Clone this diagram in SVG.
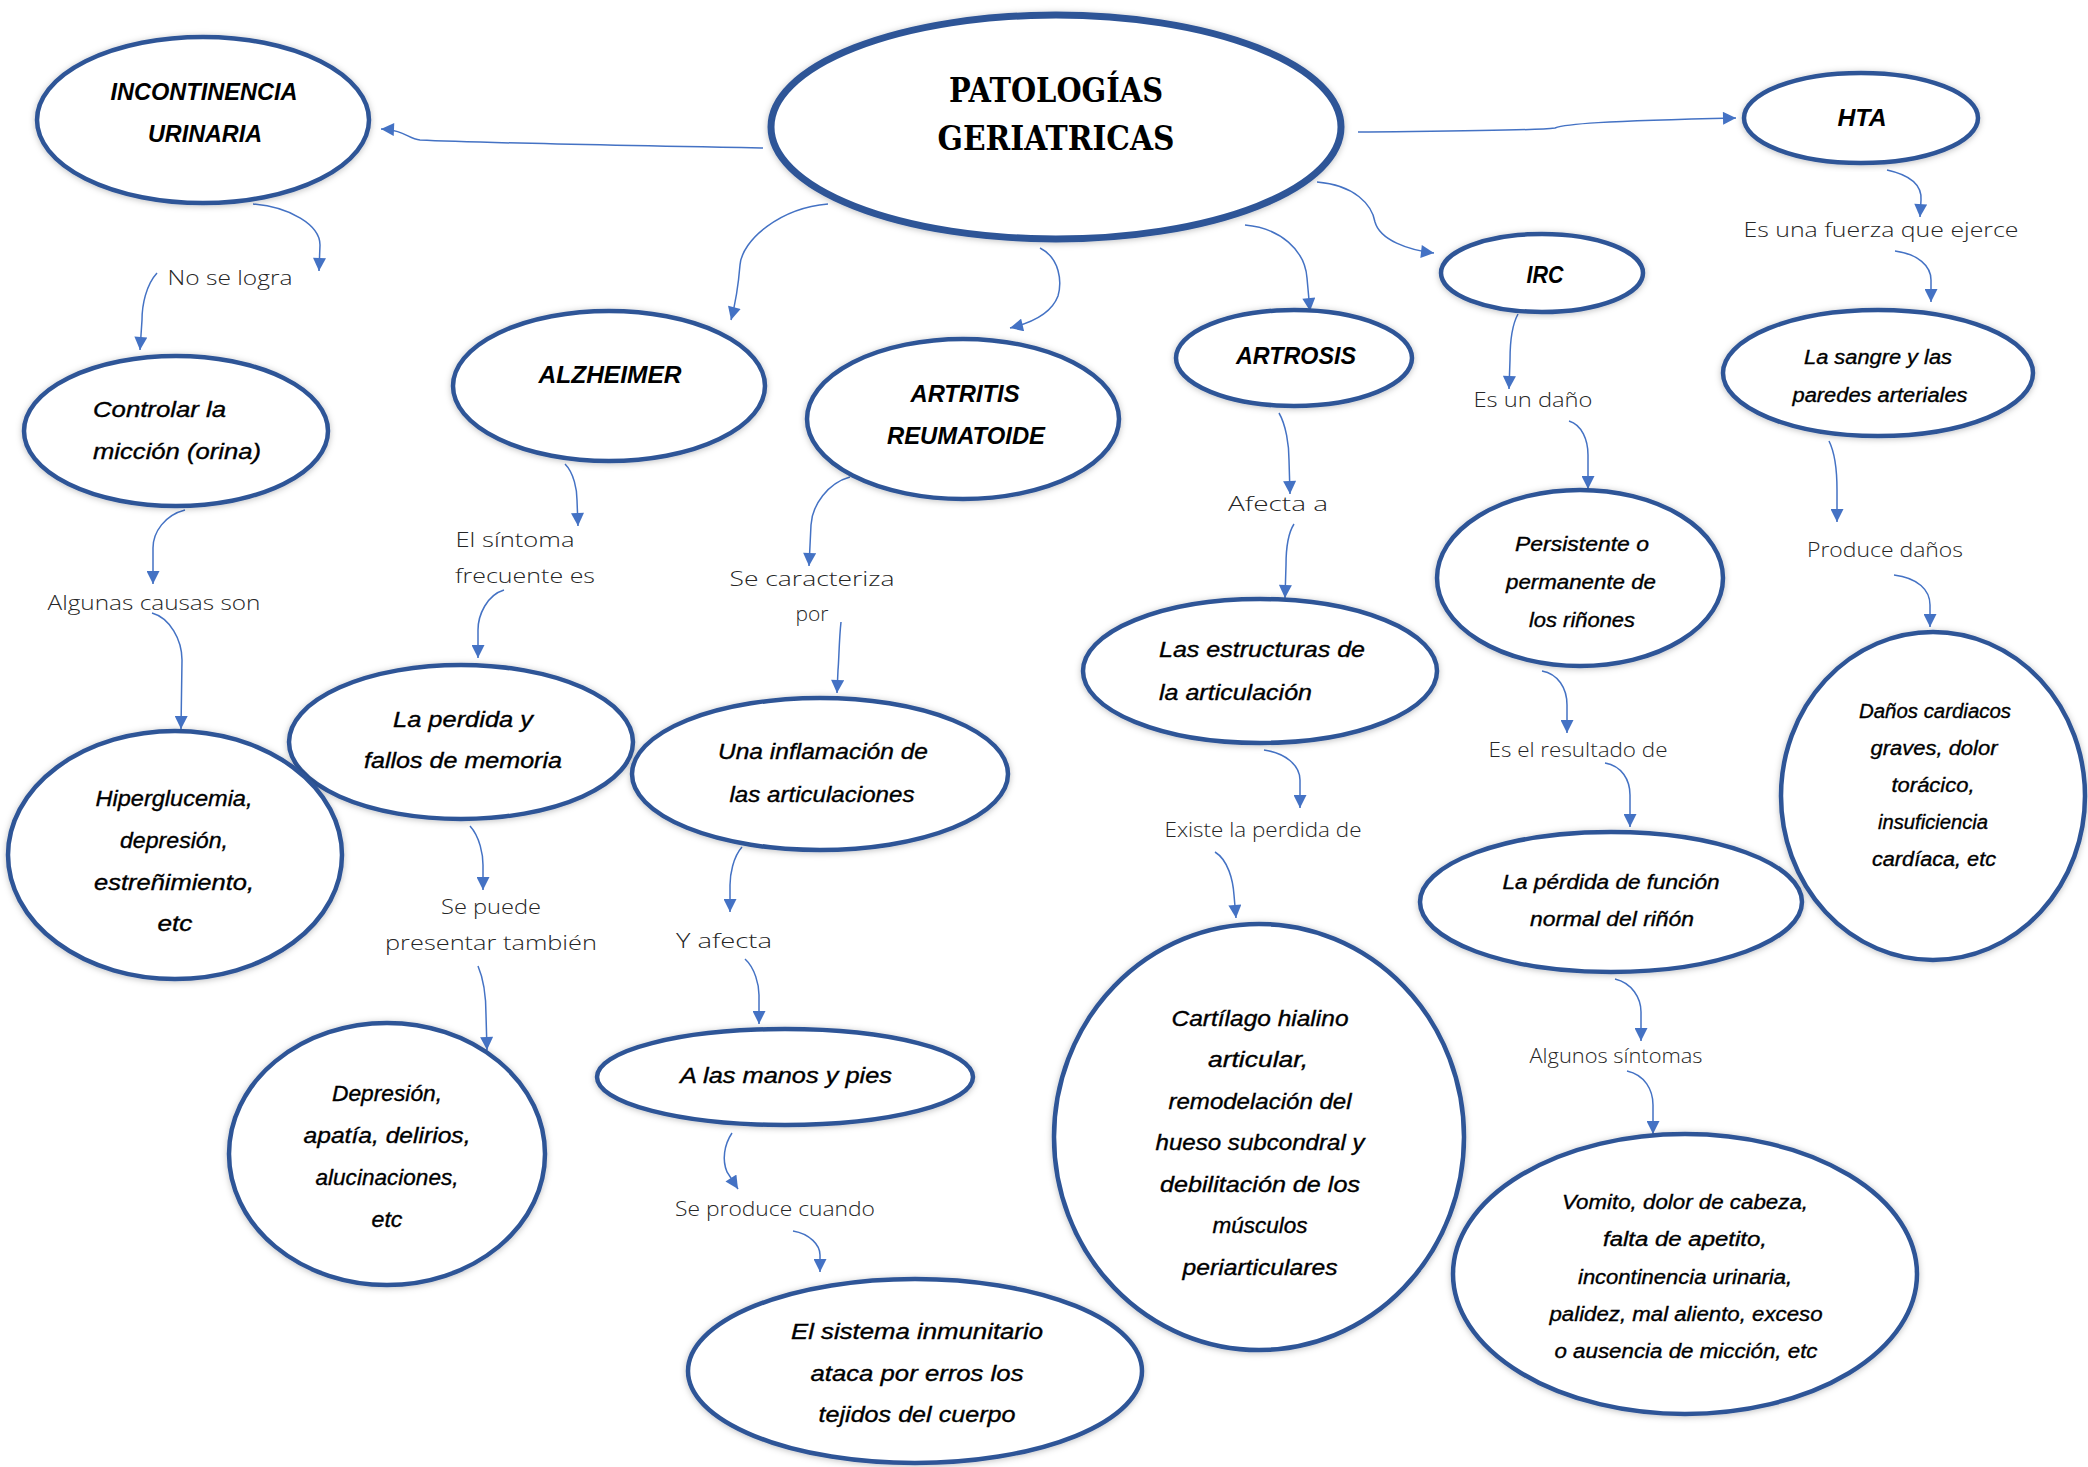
<svg xmlns="http://www.w3.org/2000/svg" width="2088" height="1467" viewBox="0 0 2088 1467">
<defs>
<marker id="ah" viewBox="0 0 10 10" refX="10" refY="5" markerWidth="14" markerHeight="13" markerUnits="userSpaceOnUse" orient="auto"><path d="M0,0 L10,5 L0,10 z" fill="#4472C4"/></marker>
<filter id="sh" x="-10%" y="-10%" width="120%" height="120%"><feDropShadow dx="0" dy="1" stdDeviation="3" flood-color="#000" flood-opacity="0.25"/></filter>
</defs>
<style>
.node ellipse{fill:#fff;stroke:#2F5597;stroke-width:4.5;filter:url(#sh)}
.t{font-family:"Liberation Sans",Arial,sans-serif;font-style:italic;font-size:22px;fill:#000;stroke:#000;stroke-width:0.35;text-anchor:middle}
.s{font-size:20px}
.t.l{text-anchor:start}
.h{font-family:"Liberation Sans",Arial,sans-serif;font-style:italic;font-weight:bold;font-size:24px;fill:#000;text-anchor:middle}
.lbl{font-family:"Open Sans","Liberation Sans",sans-serif;font-weight:300;font-size:21px;fill:#262626;text-anchor:middle}
.conn path{fill:none;stroke:#4472C4;stroke-width:1.5;marker-end:url(#ah)}
</style>
<rect width="2088" height="1467" fill="#fff"/>

<g class="conn">
<path d="M763,148 C650,146 480,143 420,140 C408,139 405,130 381,129"/>
<path d="M1358,132 C1450,131 1530,131 1555,128 C1565,124 1600,121 1736,118"/>
<path d="M828,204 C780,208 742,240 740,265 C738,290 735,305 731,320"/>
<path d="M1040,248 C1060,258 1062,282 1058,296 C1052,312 1035,322 1010,328"/>
<path d="M1245,225 C1280,228 1305,250 1307,278 L1310,311"/>
<path d="M1317,182 C1355,185 1372,205 1375,222 C1380,240 1408,250 1434,253"/>
<path d="M1887,170 C1910,175 1922,185 1921,200 L1920,217"/>
<path d="M1895,251 C1918,254 1931,266 1931,280 L1931,302"/>
<path d="M1829,441 C1836,455 1837,475 1837,490 L1837,522"/>
<path d="M1894,575 C1918,578 1930,590 1930,605 L1930,627"/>
<path d="M1518,314 C1512,325 1510,345 1510,360 L1509,389"/>
<path d="M1569,421 C1582,425 1588,440 1588,455 L1588,489"/>
<path d="M1542,671 C1558,674 1567,688 1567,705 L1567,733"/>
<path d="M1605,763 C1622,766 1630,780 1630,795 L1630,827"/>
<path d="M1615,979 C1632,983 1641,998 1641,1012 L1641,1041"/>
<path d="M1627,1071 C1645,1075 1653,1090 1653,1105 L1653,1134"/>
<path d="M1279,413 C1286,425 1289,445 1289,460 L1290,494"/>
<path d="M1294,524 C1287,535 1286,555 1286,565 L1285,598"/>
<path d="M1264,750 C1285,753 1300,765 1300,780 L1300,808"/>
<path d="M1215,852 C1228,860 1233,880 1234,895 L1236,918"/>
<path d="M850,477 C828,483 812,505 811,525 L809,566"/>
<path d="M841,622 C839,640 839,660 838,670 L837,693"/>
<path d="M742,847 C733,857 730,875 730,885 L730,912"/>
<path d="M745,959 C755,968 759,985 759,995 L759,1024"/>
<path d="M732,1133 C724,1145 722,1160 727,1172 L738,1189"/>
<path d="M793,1231 C810,1234 820,1245 820,1255 L820,1272"/>
<path d="M565,464 C574,473 577,490 577,500 L578,526"/>
<path d="M504,590 C487,595 478,615 478,630 L478,658"/>
<path d="M470,826 C480,837 483,855 483,865 L483,890"/>
<path d="M478,966 C484,980 486,1000 486,1015 L487,1050"/>
<path d="M185,510 C165,515 153,532 153,548 L153,584"/>
<path d="M152,613 C170,618 182,640 182,660 L181,729"/>
<path d="M253,204 C290,207 320,225 320,245 L319,271"/>
<path d="M157,273 C146,285 142,305 142,320 L140,350"/>
</g>

<g id="labels">
<text class="lbl" x="230" y="285" textLength="125" lengthAdjust="spacingAndGlyphs">No se logra</text>
<text class="lbl" x="154" y="610" textLength="213" lengthAdjust="spacingAndGlyphs">Algunas causas son</text>
<text class="lbl" x="515" y="547" textLength="119" lengthAdjust="spacingAndGlyphs">El síntoma</text>
<text class="lbl" x="525" y="583" textLength="140" lengthAdjust="spacingAndGlyphs">frecuente es</text>
<text class="lbl" x="812" y="586" textLength="165" lengthAdjust="spacingAndGlyphs">Se caracteriza</text>
<text class="lbl" x="812" y="621">por</text>
<text class="lbl" x="1278" y="511" textLength="100" lengthAdjust="spacingAndGlyphs">Afecta a</text>
<text class="lbl" x="1533" y="407" textLength="119" lengthAdjust="spacingAndGlyphs">Es un daño</text>
<text class="lbl" x="1881" y="237" textLength="275" lengthAdjust="spacingAndGlyphs">Es una fuerza que ejerce</text>
<text class="lbl" x="1885" y="557" textLength="156" lengthAdjust="spacingAndGlyphs">Produce daños</text>
<text class="lbl" x="1578" y="757" textLength="179" lengthAdjust="spacingAndGlyphs">Es el resultado de</text>
<text class="lbl" x="1263" y="837" textLength="197" lengthAdjust="spacingAndGlyphs">Existe la perdida de</text>
<text class="lbl" x="491" y="914" textLength="100" lengthAdjust="spacingAndGlyphs">Se puede</text>
<text class="lbl" x="491" y="950" textLength="212" lengthAdjust="spacingAndGlyphs">presentar también</text>
<text class="lbl" x="724" y="948" textLength="96" lengthAdjust="spacingAndGlyphs">Y afecta</text>
<text class="lbl" x="775" y="1216" textLength="200" lengthAdjust="spacingAndGlyphs">Se produce cuando</text>
<text class="lbl" x="1616" y="1063" textLength="173" lengthAdjust="spacingAndGlyphs">Algunos síntomas</text>
</g>

<g id="main" class="node">
<ellipse cx="1056" cy="127" rx="285" ry="112" style="stroke-width:7"/>
<text x="1056" y="102" font-family="'DejaVu Serif','Liberation Serif',serif" font-weight="bold" font-size="34" text-anchor="middle" textLength="214" lengthAdjust="spacingAndGlyphs">PATOLOGÍAS</text>
<text x="1056" y="150" font-family="'DejaVu Serif','Liberation Serif',serif" font-weight="bold" font-size="34" text-anchor="middle" textLength="237" lengthAdjust="spacingAndGlyphs">GERIATRICAS</text>
</g>

<g id="incontinencia" class="node">
<ellipse cx="203" cy="120" rx="166" ry="83"/>
<text class="h" x="204" y="100" textLength="187" lengthAdjust="spacingAndGlyphs">INCONTINENCIA</text>
<text class="h" x="205" y="142" textLength="114" lengthAdjust="spacingAndGlyphs">URINARIA</text>
</g>

<g id="hta" class="node">
<ellipse cx="1861" cy="118" rx="117" ry="45"/>
<text class="h" x="1862" y="126" textLength="49" lengthAdjust="spacingAndGlyphs">HTA</text>
</g>

<g id="irc" class="node">
<ellipse cx="1542" cy="273" rx="101" ry="39"/>
<text class="h" x="1545" y="283" textLength="37" lengthAdjust="spacingAndGlyphs">IRC</text>
</g>

<g id="alzheimer" class="node">
<ellipse cx="609" cy="386" rx="156" ry="75"/>
<text class="h" x="610" y="383" textLength="143" lengthAdjust="spacingAndGlyphs">ALZHEIMER</text>
</g>

<g id="artritis" class="node">
<ellipse cx="963" cy="419" rx="156" ry="80"/>
<text class="h" x="965" y="402" textLength="109" lengthAdjust="spacingAndGlyphs">ARTRITIS</text>
<text class="h" x="966" y="444" textLength="158" lengthAdjust="spacingAndGlyphs">REUMATOIDE</text>
</g>

<g id="artrosis" class="node">
<ellipse cx="1294" cy="358" rx="118" ry="48"/>
<text class="h" x="1296" y="364" textLength="120" lengthAdjust="spacingAndGlyphs">ARTROSIS</text>
</g>

<g id="controlar" class="node">
<ellipse cx="176" cy="431" rx="152" ry="75"/>
<text class="t l" x="93" y="417" textLength="133" lengthAdjust="spacingAndGlyphs">Controlar la</text>
<text class="t l" x="93" y="459" textLength="168" lengthAdjust="spacingAndGlyphs">micción (orina)</text>
</g>

<g id="sangre" class="node">
<ellipse cx="1878" cy="373" rx="155" ry="63"/>
<text class="t s" x="1878" y="364" textLength="148" lengthAdjust="spacingAndGlyphs">La sangre y las</text>
<text class="t s" x="1880" y="402" textLength="175" lengthAdjust="spacingAndGlyphs">paredes arteriales</text>
</g>

<g id="persistente" class="node">
<ellipse cx="1580" cy="578" rx="143" ry="88"/>
<text class="t s" x="1582" y="551" textLength="134" lengthAdjust="spacingAndGlyphs">Persistente o</text>
<text class="t s" x="1581" y="589" textLength="150" lengthAdjust="spacingAndGlyphs">permanente de</text>
<text class="t s" x="1582" y="627" textLength="106" lengthAdjust="spacingAndGlyphs">los riñones</text>
</g>

<g id="estructuras" class="node">
<ellipse cx="1260" cy="671" rx="177" ry="72"/>
<text class="t l" x="1159" y="657" textLength="206" lengthAdjust="spacingAndGlyphs">Las estructuras de</text>
<text class="t l" x="1159" y="700" textLength="153" lengthAdjust="spacingAndGlyphs">la articulación</text>
</g>

<g id="perdida" class="node">
<ellipse cx="461" cy="742" rx="172" ry="77"/>
<text class="t" x="463" y="727" textLength="140" lengthAdjust="spacingAndGlyphs">La perdida y</text>
<text class="t" x="463" y="768" textLength="198" lengthAdjust="spacingAndGlyphs">fallos de memoria</text>
</g>

<g id="inflamacion" class="node">
<ellipse cx="820" cy="774" rx="188" ry="76"/>
<text class="t" x="823" y="759" textLength="210" lengthAdjust="spacingAndGlyphs">Una inflamación de</text>
<text class="t" x="822" y="802" textLength="185" lengthAdjust="spacingAndGlyphs">las articulaciones</text>
</g>

<g id="hiperglucemia" class="node">
<ellipse cx="175" cy="855" rx="167" ry="124"/>
<text class="t" x="174" y="806" textLength="157" lengthAdjust="spacingAndGlyphs">Hiperglucemia,</text>
<text class="t" x="174" y="848" textLength="108" lengthAdjust="spacingAndGlyphs">depresión,</text>
<text class="t" x="174" y="890" textLength="160" lengthAdjust="spacingAndGlyphs">estreñimiento,</text>
<text class="t" x="175" y="931" textLength="35" lengthAdjust="spacingAndGlyphs">etc</text>
</g>

<g id="danos" class="node">
<ellipse cx="1933" cy="796" rx="152" ry="164"/>
<text class="t s" x="1935" y="718" textLength="152" lengthAdjust="spacingAndGlyphs">Daños cardiacos</text>
<text class="t s" x="1934" y="755" textLength="127" lengthAdjust="spacingAndGlyphs">graves, dolor</text>
<text class="t s" x="1933" y="792" textLength="83" lengthAdjust="spacingAndGlyphs">torácico,</text>
<text class="t s" x="1933" y="829" textLength="110" lengthAdjust="spacingAndGlyphs">insuficiencia</text>
<text class="t s" x="1934" y="866" textLength="124" lengthAdjust="spacingAndGlyphs">cardíaca, etc</text>
</g>

<g id="funcion" class="node">
<ellipse cx="1611" cy="902" rx="191" ry="70"/>
<text class="t s" x="1611" y="889" textLength="217" lengthAdjust="spacingAndGlyphs">La pérdida de función</text>
<text class="t s" x="1612" y="926" textLength="164" lengthAdjust="spacingAndGlyphs">normal del riñón</text>
</g>

<g id="manos" class="node">
<ellipse cx="785" cy="1077" rx="188" ry="48"/>
<text class="t" x="786" y="1083" textLength="212" lengthAdjust="spacingAndGlyphs">A las manos y pies</text>
</g>

<g id="depresion" class="node">
<ellipse cx="387" cy="1154" rx="158" ry="131"/>
<text class="t" x="387" y="1101" textLength="110" lengthAdjust="spacingAndGlyphs">Depresión,</text>
<text class="t" x="387" y="1143" textLength="167" lengthAdjust="spacingAndGlyphs">apatía, delirios,</text>
<text class="t" x="387" y="1185" textLength="143" lengthAdjust="spacingAndGlyphs">alucinaciones,</text>
<text class="t" x="387" y="1227" textLength="31" lengthAdjust="spacingAndGlyphs">etc</text>
</g>

<g id="cartilago" class="node">
<ellipse cx="1259" cy="1137" rx="205" ry="213"/>
<text class="t" x="1260" y="1026" textLength="177" lengthAdjust="spacingAndGlyphs">Cartílago hialino</text>
<text class="t" x="1258" y="1067" textLength="100" lengthAdjust="spacingAndGlyphs">articular,</text>
<text class="t" x="1260" y="1109" textLength="183" lengthAdjust="spacingAndGlyphs">remodelación del</text>
<text class="t" x="1260" y="1150" textLength="209" lengthAdjust="spacingAndGlyphs">hueso subcondral y</text>
<text class="t" x="1260" y="1192" textLength="200" lengthAdjust="spacingAndGlyphs">debilitación de los</text>
<text class="t" x="1260" y="1233" textLength="95" lengthAdjust="spacingAndGlyphs">músculos</text>
<text class="t" x="1260" y="1275" textLength="155" lengthAdjust="spacingAndGlyphs">periarticulares</text>
</g>

<g id="vomito" class="node">
<ellipse cx="1685" cy="1274" rx="232" ry="140"/>
<text class="t s" x="1685" y="1209" textLength="246" lengthAdjust="spacingAndGlyphs">Vomito, dolor de cabeza,</text>
<text class="t s" x="1685" y="1246" textLength="164" lengthAdjust="spacingAndGlyphs">falta de apetito,</text>
<text class="t s" x="1685" y="1284" textLength="214" lengthAdjust="spacingAndGlyphs">incontinencia urinaria,</text>
<text class="t s" x="1686" y="1321" textLength="273" lengthAdjust="spacingAndGlyphs">palidez, mal aliento, exceso</text>
<text class="t s" x="1686" y="1358" textLength="263" lengthAdjust="spacingAndGlyphs">o ausencia de micción, etc</text>
</g>

<g id="sistema" class="node">
<ellipse cx="915" cy="1371" rx="227" ry="92"/>
<text class="t" x="917" y="1339" textLength="252" lengthAdjust="spacingAndGlyphs">El sistema inmunitario</text>
<text class="t" x="917" y="1381" textLength="213" lengthAdjust="spacingAndGlyphs">ataca por erros los</text>
<text class="t" x="917" y="1422" textLength="197" lengthAdjust="spacingAndGlyphs">tejidos del cuerpo</text>
</g>
</svg>
